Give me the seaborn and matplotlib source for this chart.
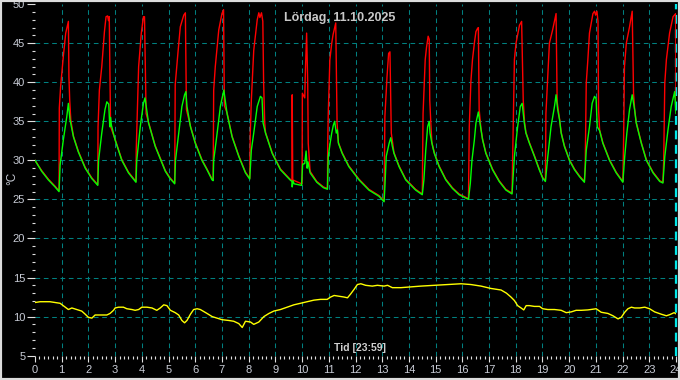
import matplotlib
matplotlib.use("Agg")
import matplotlib.pyplot as plt
from matplotlib.patches import Rectangle
from matplotlib.ticker import MultipleLocator
import seaborn as sns
import pandas as pd

# ---------------- data (hours, °C) ----------------
red_t = [0.00, 0.25, 0.50, 0.75, 0.90,
         0.91, 0.96, 1.06, 1.15, 1.25, 1.27, 1.30, 1.34, 1.44, 1.62, 1.88, 2.12, 2.35,
         2.36, 2.41, 2.50, 2.60, 2.66, 2.72, 2.75, 2.78, 2.83, 3.00, 3.25, 3.50, 3.78,
         3.79, 3.88, 3.98, 4.06, 4.10, 4.16, 4.25, 4.50, 4.88, 5.05, 5.23,
         5.25, 5.35, 5.44, 5.57, 5.63, 5.67, 5.82, 6.00, 6.25, 6.44, 6.63, 6.67,
         6.69, 6.75, 6.88, 7.00, 7.06, 7.09, 7.19, 7.38, 7.63, 7.88, 8.04,
         8.06, 8.10, 8.19, 8.32, 8.38, 8.42, 8.48, 8.53, 8.56, 8.60, 8.63, 8.88, 9.19, 9.55, 9.62,
         9.63, 9.65, 9.98,
         10.00, 10.01, 10.10, 10.12, 10.17, 10.21, 10.23, 10.30, 10.55, 10.80, 10.95,
         10.96, 10.98, 11.04, 11.11, 11.16, 11.26, 11.31, 11.36, 11.50, 11.75, 12.13, 12.50, 12.88, 13.07,
         13.10, 13.18, 13.24, 13.29, 13.34, 13.44, 13.63, 13.88, 14.25, 14.50,
         14.53, 14.61, 14.66, 14.72, 14.76, 14.78, 14.82, 14.86, 14.95, 15.13, 15.38, 15.63, 15.88, 16.23,
         16.26, 16.32, 16.38, 16.45, 16.51, 16.57, 16.60, 16.63, 16.70, 16.76, 16.88, 17.13, 17.38, 17.63, 17.86,
         17.91, 17.95, 18.01, 18.14, 18.22, 18.28, 18.33, 18.38, 18.51, 18.70, 18.88, 19.01, 19.11,
         19.13, 19.26, 19.38, 19.51, 19.55, 19.64, 19.70, 19.82, 20.01, 20.20, 20.39, 20.57,
         20.60, 20.64, 20.70, 20.76, 20.89, 20.95, 20.99, 21.04, 21.08, 21.10, 21.14, 21.26, 21.51, 21.76, 22.01,
         22.04, 22.07, 22.14, 22.26, 22.36, 22.41, 22.45, 22.51, 22.70, 22.89, 23.14, 23.39, 23.51,
         23.54, 23.58, 23.64, 23.76, 23.89, 23.99, 24.00]
red_c = [30.0, 28.7, 27.6, 26.7, 26.1,
         36.7, 39.5, 43.3, 46.3, 47.8, 40.7, 37.7, 35.2, 33.1, 31.2, 29.1, 27.8, 26.9,
         34.3, 39.0, 42.0, 46.5, 48.4, 48.5, 47.9, 48.4, 34.3, 32.7, 30.1, 28.5, 27.3,
         31.3, 42.0, 46.3, 48.4, 48.4, 36.0, 34.9, 31.9, 28.7, 27.8, 27.1,
         39.7, 43.7, 47.1, 48.6, 48.9, 36.5, 34.4, 32.3, 30.1, 28.9, 27.6, 27.5,
         39.0, 42.0, 46.7, 48.8, 49.3, 37.0, 36.1, 33.1, 30.6, 28.5, 27.7,
         33.5, 37.7, 44.1, 48.0, 48.9, 48.3, 48.9, 47.8, 39.9, 34.9, 33.6, 31.0, 28.9, 27.6, 27.4,
         38.4, 27.5, 27.0,
         27.0, 38.6, 38.0, 41.0, 46.3, 40.0, 32.2, 28.6, 27.3, 26.6, 26.4,
         32.2, 36.0, 42.9, 45.0, 46.1, 47.6, 34.8, 32.3, 31.0, 29.3, 27.6, 26.3, 25.5, 24.8,
         35.6, 40.7, 43.7, 43.9, 33.5, 31.0, 29.3, 27.6, 26.3, 25.7,
         36.0, 42.9, 44.5, 45.9, 45.5, 37.7, 34.8, 32.3, 31.0, 29.3, 27.6, 26.5, 25.7, 25.1,
         34.3, 40.1, 42.9, 45.0, 46.5, 46.9, 47.0, 36.5, 34.0, 32.7, 31.0, 28.9, 27.4, 26.3, 25.8,
         35.0, 42.9, 45.0, 47.3, 47.8, 37.7, 34.9, 33.6, 32.3, 30.6, 28.9, 27.8, 27.4,
         36.0, 45.0, 46.7, 48.8, 37.5, 35.3, 33.6, 31.9, 30.1, 28.9, 28.0, 27.3,
         29.2, 39.9, 42.9, 46.3, 48.8, 49.1, 48.6, 49.1, 47.8, 36.5, 33.9, 32.3, 30.1, 28.5, 27.3,
         33.0, 42.0, 45.0, 47.1, 49.1, 38.6, 36.6, 34.9, 32.3, 30.1, 28.5, 27.4, 27.2,
         30.0, 39.9, 42.9, 46.3, 48.4, 48.8, 37.3]

green_t = [0.00, 0.25, 0.50, 0.75, 0.90,
           0.94, 1.06, 1.19, 1.25, 1.31, 1.44, 1.62, 1.88, 2.12, 2.35,
           2.38, 2.50, 2.62, 2.69, 2.76, 2.80, 2.83, 2.86, 3.00, 3.25, 3.50, 3.78,
           3.81, 3.94, 4.06, 4.12, 4.25, 4.50, 4.88, 5.05, 5.23,
           5.26, 5.38, 5.50, 5.60, 5.65, 5.69, 5.82, 6.00, 6.25, 6.44, 6.63, 6.67,
           6.69, 6.82, 6.94, 7.07, 7.19, 7.38, 7.63, 7.88, 8.04,
           8.10, 8.19, 8.32, 8.44, 8.50, 8.54, 8.63, 8.88, 9.19, 9.55, 9.62,
           9.63, 9.66, 9.70, 9.98,
           10.02, 10.10, 10.15, 10.19, 10.22, 10.30, 10.55, 10.80, 10.95,
           10.98, 11.05, 11.11, 11.17, 11.22, 11.28, 11.32, 11.36, 11.50, 11.75, 12.13, 12.50, 12.88, 13.07,
           13.10, 13.15, 13.26, 13.32, 13.38, 13.44, 13.63, 13.88, 14.25, 14.50,
           14.56, 14.63, 14.70, 14.76, 14.79, 14.86, 14.95, 15.13, 15.38, 15.63, 15.88, 16.23,
           16.30, 16.36, 16.45, 16.51, 16.60, 16.66, 16.76, 16.88, 17.13, 17.38, 17.63, 17.86,
           17.95, 18.07, 18.17, 18.24, 18.32, 18.38, 18.51, 18.70, 18.88, 19.01, 19.11,
           19.20, 19.32, 19.45, 19.51, 19.57, 19.64, 19.70, 19.82, 20.01, 20.20, 20.39, 20.57,
           20.64, 20.76, 20.86, 20.95, 21.01, 21.05, 21.14, 21.26, 21.51, 21.76, 22.01,
           22.08, 22.16, 22.26, 22.36, 22.45, 22.51, 22.70, 22.89, 23.14, 23.39, 23.51,
           23.58, 23.70, 23.82, 23.95, 24.00]
green_c = [30.0, 28.6, 27.5, 26.6, 26.0,
           29.4, 32.6, 35.6, 37.3, 35.2, 33.0, 31.1, 29.0, 27.7, 26.8,
           30.0, 33.5, 36.5, 37.5, 37.2, 34.3, 35.5, 34.5, 32.6, 30.0, 28.4, 27.2,
           30.0, 34.3, 37.3, 38.0, 34.8, 31.8, 28.6, 27.7, 27.0,
           30.0, 33.5, 36.9, 38.4, 38.8, 36.9, 34.3, 32.2, 30.0, 28.8, 27.5, 27.4,
           30.0, 33.5, 36.9, 39.0, 36.0, 33.0, 30.5, 28.4, 27.6,
           31.3, 33.5, 36.9, 38.2, 38.0, 34.8, 33.5, 30.9, 28.8, 27.5, 27.3,
           26.6, 27.4, 27.0, 26.8,
           29.5, 29.6, 31.2, 29.0, 29.8, 28.4, 27.2, 26.5, 26.3,
           30.5, 32.2, 33.5, 34.5, 35.0, 33.5, 33.9, 32.2, 30.9, 29.2, 27.5, 26.2, 25.4, 24.7,
           26.6, 30.5, 32.2, 32.9, 31.8, 30.9, 29.2, 27.5, 26.2, 25.6,
           27.5, 31.3, 34.3, 35.0, 33.5, 32.2, 30.9, 29.2, 27.5, 26.4, 25.6, 25.0,
           27.1, 30.0, 32.6, 34.8, 36.2, 34.8, 32.6, 30.9, 28.8, 27.3, 26.2, 25.7,
           30.5, 34.3, 36.9, 37.3, 34.8, 33.5, 32.2, 30.5, 28.8, 27.7, 27.3,
           30.5, 34.3, 36.9, 38.4, 36.5, 35.2, 33.5, 31.8, 30.0, 28.8, 27.9, 27.2,
           31.3, 34.3, 37.3, 38.2, 37.9, 34.3, 33.8, 32.2, 30.0, 28.4, 27.2,
           30.5, 33.5, 36.5, 38.4, 36.5, 34.8, 32.2, 30.0, 28.4, 27.3, 27.1,
           30.5, 33.9, 36.9, 38.8, 36.0]

yellow_t = [0.00, 0.19, 0.38, 0.56, 0.75, 0.94, 1.13, 1.25, 1.38, 1.56, 1.75, 1.88, 2.00, 2.13,
            2.25, 2.44, 2.69, 2.81, 2.94, 3.00, 3.13, 3.31, 3.44, 3.63, 3.75, 3.88, 4.00, 4.19,
            4.38, 4.56, 4.69, 4.82, 4.94, 5.07, 5.25, 5.38, 5.50, 5.60, 5.69, 5.82, 5.94, 6.07,
            6.19, 6.44, 6.63, 6.82, 7.00, 7.25, 7.44, 7.63, 7.76, 7.88, 8.07, 8.19, 8.38, 8.57,
            8.76, 8.94, 9.19, 9.44, 9.69, 9.94, 10.19, 10.44, 10.69, 10.94, 11.07, 11.20, 11.38,
            11.57, 11.70, 11.82, 11.95, 12.07, 12.20, 12.38, 12.63, 12.82, 13.07, 13.20, 13.38,
            13.70, 14.07, 14.45, 14.95, 15.45, 15.95, 16.32, 16.70, 17.07, 17.45, 17.65, 17.82,
            17.95, 18.07, 18.20, 18.30, 18.39, 18.51, 18.70, 18.89, 19.01, 19.20, 19.45, 19.70,
            19.89, 20.08, 20.26, 20.45, 20.70, 21.01, 21.20, 21.45, 21.64, 21.83, 21.95, 22.08,
            22.20, 22.33, 22.45, 22.64, 22.83, 23.01, 23.20, 23.45, 23.64, 23.77, 23.93, 24.00]
yellow_c = [11.8, 11.9, 11.9, 11.9, 11.8, 11.7, 11.2, 10.9, 11.1, 10.9, 10.7, 10.3, 9.9, 9.8,
            10.2, 10.2, 10.2, 10.4, 10.8, 11.1, 11.2, 11.2, 11.0, 10.9, 10.8, 10.9, 11.2, 11.2,
            11.1, 10.8, 11.1, 11.5, 11.4, 10.8, 10.5, 10.2, 9.5, 9.2, 9.5, 10.3, 10.9, 11.0,
            10.9, 10.4, 10.0, 9.8, 9.6, 9.5, 9.4, 9.1, 8.6, 9.4, 9.3, 9.0, 9.3, 10.0,
            10.4, 10.7, 10.9, 11.2, 11.5, 11.7, 11.9, 12.1, 12.2, 12.2, 12.5, 12.7, 12.6,
            12.5, 12.4, 12.9, 13.5, 14.1, 14.2, 14.0, 13.9, 14.0, 13.9, 14.0, 13.7,
            13.7, 13.8, 13.9, 14.0, 14.1, 14.2, 14.1, 13.9, 13.6, 13.4, 13.0, 12.5,
            12.05, 11.4, 11.1, 10.85, 11.4, 11.4, 11.3, 11.3, 11.0, 10.9, 10.9, 10.8,
            10.5, 10.6, 10.8, 10.8, 10.85, 11.0, 10.55, 10.4, 10.1, 9.7, 9.9, 10.55,
            11.0, 11.2, 11.1, 11.1, 11.2, 11.0, 10.6, 10.3, 10.1, 10.25, 10.5, 10.35]

x_ticks = list(range(0, 25))
y_ticks = [5, 10, 15, 20, 25, 30, 35, 40, 45, 50]
title_text = "Lördag, 11.10.2025"
x_label_text = "Tid [23:59]"
y_label_text = "°C"

# ---------------- figure ----------------
fig = plt.figure(figsize=(6.8, 3.8), dpi=100, facecolor="black")
ax = fig.add_axes([35 / 680, 1 - 355.6 / 380, 641 / 680, 351.4 / 380])
ax.set_facecolor("black")
ax.set_xlim(0, 24)
ax.set_ylim(5, 50)

grid_kw = dict(color="#008080", lw=0.75, ls=(0, (4.5, 3.5)), zorder=1)
for h in x_ticks[1:-1]:
    ax.axvline(h, **grid_kw)
for v in y_ticks[1:-1]:
    ax.axhline(v, **grid_kw)
ax.axvline(24, color="#00e8e8", lw=1.6, ls=(0, (4, 2.5)), zorder=1, clip_on=False)

df_red = pd.DataFrame({"t": red_t, "c": red_c})
df_green = pd.DataFrame({"t": green_t, "c": green_c})
df_yellow = pd.DataFrame({"t": yellow_t, "c": yellow_c})

sns.lineplot(data=df_red, x="t", y="c", ax=ax, color="#ff0000", lw=1.0,
             sort=False, estimator=None, legend=False, zorder=3)
sns.lineplot(data=df_green, x="t", y="c", ax=ax, color="#00ff00", lw=1.0,
             sort=False, estimator=None, legend=False, zorder=4)
sns.lineplot(data=df_yellow, x="t", y="c", ax=ax, color="#ffff00", lw=1.0,
             sort=False, estimator=None, legend=False, zorder=4)

for s in ax.spines.values():
    s.set_visible(False)

lab_col = "#c8ccd6"
ax.set_xticks(x_ticks)
ax.set_xticklabels([str(v) for v in x_ticks])
ax.set_yticks(y_ticks)
ax.set_yticklabels([str(v) for v in y_ticks])
ax.xaxis.set_minor_locator(MultipleLocator(1 / 6))
ax.yaxis.set_minor_locator(MultipleLocator(1))
ax.tick_params(axis="x", which="major", length=4.2, width=0.8, color="#e0e0e0",
               labelcolor=lab_col, labelsize=8, pad=2.5)
ax.tick_params(axis="x", which="minor", length=2.2, width=0.8, color="#e0e0e0")
ax.tick_params(axis="y", which="major", length=6.0, width=0.8, color="#e0e0e0",
               labelcolor=lab_col, labelsize=8, pad=1.0)
ax.tick_params(axis="y", which="minor", length=2.4, width=0.8, color="#e0e0e0")
for lbl in ax.get_xticklabels() + ax.get_yticklabels():
    lbl.set_family(["Liberation Sans", "DejaVu Sans"])
ax.set_xlabel("")
ax.set_ylabel("")

fig.text(0.5, 1 - 17.5 / 380, title_text, ha="center", va="center", color="#c8c8c8",
         fontsize=9, fontweight="bold", family=["Liberation Sans", "DejaVu Sans"])
fig.text(359.5 / 680, 1 - 348 / 380, x_label_text, ha="center", va="center", color="#d0d0d0",
         fontsize=7.5, fontweight="bold", family=["Liberation Sans", "DejaVu Sans"])
fig.text(12 / 680, 1 - 178 / 380, y_label_text, ha="center", va="center", rotation=90,
         color=lab_col, fontsize=8.5, family=["Liberation Sans", "DejaVu Sans"])

fig.patches.append(Rectangle((0, 0), 1, 1, transform=fig.transFigure, fill=False,
                             edgecolor="#dcdcdc", lw=3, zorder=10))

fig.savefig("out.png", dpi=100, facecolor="black")
